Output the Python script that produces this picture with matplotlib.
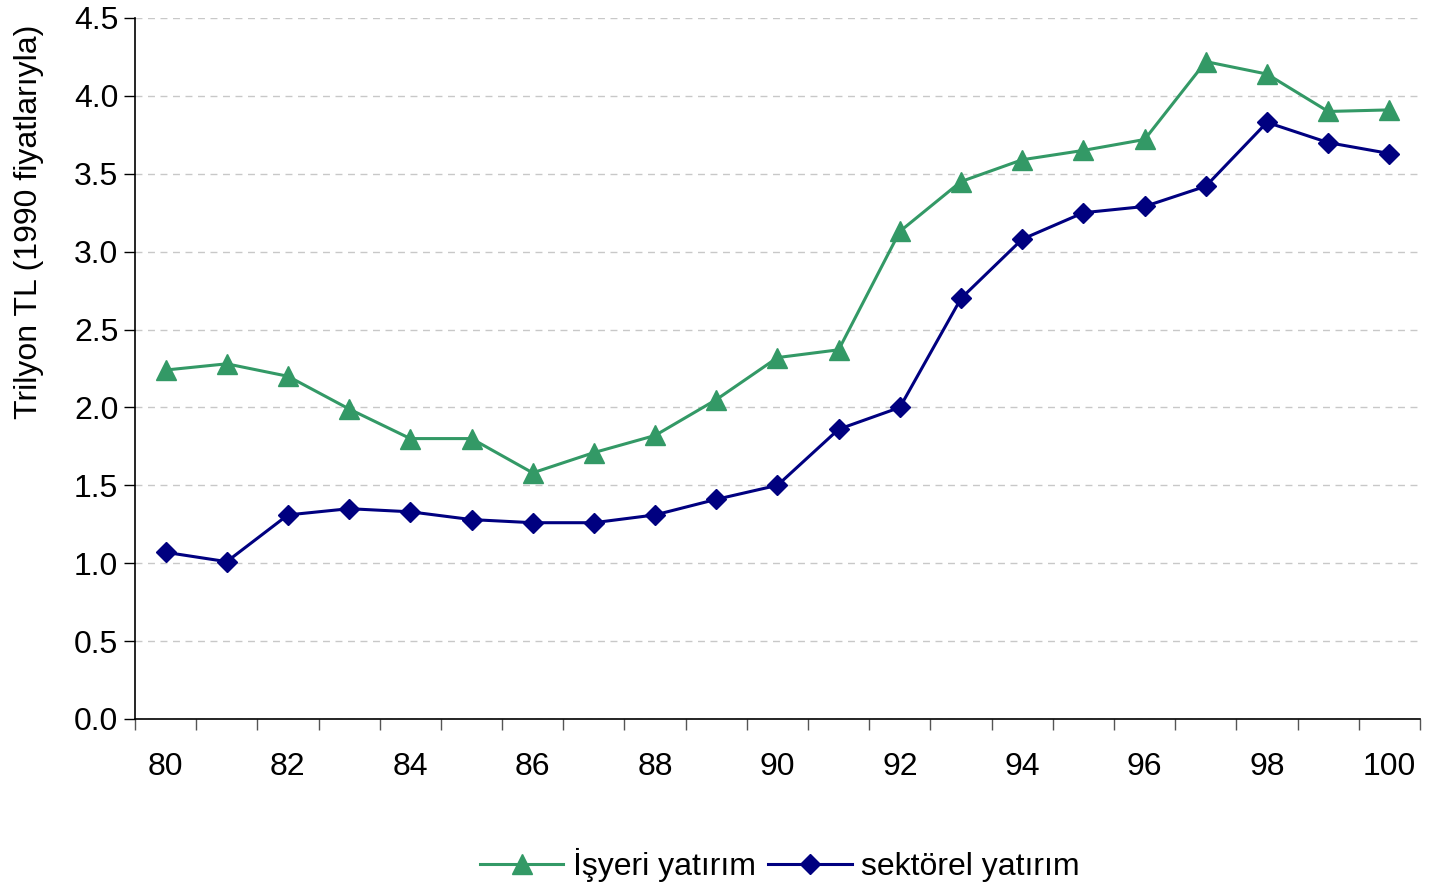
import numpy as np
import matplotlib
matplotlib.use("Agg")
import matplotlib.pyplot as plt

plt.rcParams["font.family"] = ["Liberation Sans", "DejaVu Sans"]

years = list(range(80, 101))
isyeri = [2.24, 2.28, 2.20, 1.99, 1.80, 1.80, 1.58, 1.71, 1.82, 2.05, 2.32,
          2.37, 3.13, 3.45, 3.59, 3.65, 3.72, 4.22, 4.14, 3.90, 3.91]
sektorel = [1.07, 1.01, 1.31, 1.35, 1.33, 1.28, 1.26, 1.26, 1.31, 1.41, 1.50,
            1.86, 2.00, 2.70, 3.08, 3.25, 3.29, 3.42, 3.83, 3.70, 3.63]
yticks = [0.0, 0.5, 1.0, 1.5, 2.0, 2.5, 3.0, 3.5, 4.0, 4.5]

fig = plt.figure(figsize=(14.31, 8.86), dpi=100)
ax = fig.add_axes([0.0943, 0.1885, 0.898, 0.7912])

x = np.arange(len(years))
ax.plot(x, isyeri, color="#339966", lw=2.2, marker="^", ms=14, label="İşyeri yatırım")
ax.plot(x, sektorel, color="#000080", lw=2.2, marker="D", ms=10.5, label="sektörel yatırım")

ax.set_xlim(-0.5, len(years) - 0.5)
ax.set_ylim(0, 4.5)
ax.set_yticks(yticks)
ax.set_yticklabels([f"{v:.1f}" for v in yticks])
ax.yaxis.grid(True, linestyle=(0, (5, 4)), color="#c8c8c8", lw=1)
ax.set_axisbelow(True)

# category ticks between points, labels every other year
ax.set_xticks(np.arange(len(years) + 1) - 0.5)
ax.set_xticklabels([])
ax.set_xticks(x[::2], minor=True)
ax.set_xticklabels([str(y) for y in years[::2]], minor=True)
ax.tick_params(axis="x", which="major", direction="out", length=8, width=1, color="#555555")
ax.tick_params(axis="x", which="minor", length=0, pad=24, labelsize=23)
ax.tick_params(axis="y", direction="out", length=8, width=1, labelsize=23, pad=4)

for s in ["top", "right"]:
    ax.spines[s].set_visible(False)
for s in ["left", "bottom"]:
    ax.spines[s].set_linewidth(1.2)

fig.text(0.02, 0.75, "Trilyon TL (1990 fiyatlarıyla)", fontsize=23,
         rotation=90, ha="center", va="center")

fig.legend(loc="center", bbox_to_anchor=(0.545, 0.024), ncol=2, frameon=False,
           fontsize=23, handlelength=2.6, columnspacing=0.4, handletextpad=0.3)

fig.savefig("out.png", dpi=100)
